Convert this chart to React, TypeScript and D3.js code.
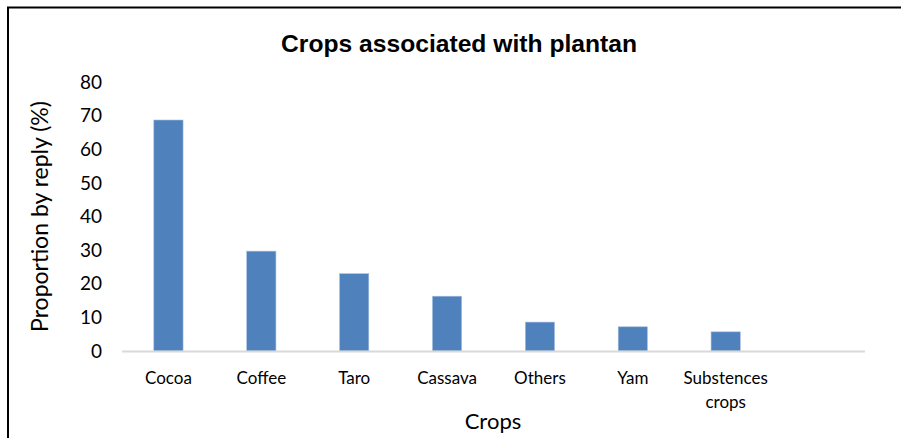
import { useMemo } from 'react';
import * as d3 from 'd3';

// data
const categories = ['Cocoa', 'Coffee', 'Taro', 'Cassava', 'Others', 'Yam', 'Substences crops', ''];
const values = [68.7, 29.7, 23.0, 16.3, 8.6, 7.2, 5.7, null];
const yTicks = [0, 10, 20, 30, 40, 50, 60, 70, 80];

const WIDTH = 901;
const HEIGHT = 438;
const PLOT = { left: 122, right: 865, top: 82, bottom: 351 };
const BAR_COLOR = '#4f81bd';
const LABEL_FONT = 'Lato, "Open Sans", sans-serif';

export default function App() {
  const xScale = useMemo(
    () => d3.scaleBand<string>().domain(categories.map((c, i) => c + i)).range([PLOT.left, PLOT.right]).padding(0),
    []
  );
  const yScale = useMemo(() => d3.scaleLinear().domain([0, 80]).range([PLOT.bottom, PLOT.top]), []);

  const step = xScale.bandwidth();
  const barW = step * 0.315;

  return (
    <svg
      width={WIDTH}
      height={HEIGHT}
      style={{ position: 'absolute', left: 0, top: 0, background: '#fff' }}
    >
      {/* chart border, runs off the right and bottom edge */}
      <rect x={8} y={7.5} width={WIDTH + 20} height={HEIGHT + 20} fill="#fff" stroke="#000" strokeWidth={2} />

      <text
        x={459}
        y={52}
        textAnchor="middle"
        fontFamily='"Liberation Sans", Arial, sans-serif'
        fontWeight="bold"
        fontSize={24}
        textLength={356}
        lengthAdjust="spacingAndGlyphs"
      >
        Crops associated with plantan
      </text>

      {/* y tick labels */}
      {yTicks.map((t) => (
        <text
          key={t}
          x={102}
          y={yScale(t)}
          dy="0.35em"
          textAnchor="end"
          fontFamily={LABEL_FONT}
          fontSize={19}
          fill="#000"
        >
          {t}
        </text>
      ))}

      {/* bars */}
      {values.map((v, i) =>
        v == null ? null : (
          <rect
            key={i}
            x={(xScale(categories[i] + i) ?? 0) + step / 2 - barW / 2}
            y={yScale(v)}
            width={barW}
            height={yScale(0) - yScale(v)}
            fill={BAR_COLOR}
            stroke="#a9c1e0"
            strokeWidth={0.6}
          />
        )
      )}

      {/* baseline */}
      <line x1={PLOT.left} x2={PLOT.right} y1={yScale(0) + 0.5} y2={yScale(0) + 0.5} stroke="#d9d9d9" strokeWidth={2} />

      {/* category labels */}
      {categories.map((c, i) => {
        const cx = (xScale(c + i) ?? 0) + step / 2;
        const lines = c === 'Substences crops' ? ['Substences', 'crops'] : [c];
        return (
          <text key={i} x={cx} y={384} textAnchor="middle" fontFamily={LABEL_FONT} fontSize={17} fill="#000">
            {lines.map((l, j) => (
              <tspan key={j} x={cx} dy={j === 0 ? 0 : 24}>
                {l}
              </tspan>
            ))}
          </text>
        );
      })}

      {/* axis titles */}
      <text x={493} y={429} textAnchor="middle" fontFamily={LABEL_FONT} fontSize={22} fill="#000">
        Crops
      </text>
      <text
        transform={`translate(48,${(PLOT.top + PLOT.bottom) / 2}) rotate(-90)`}
        textAnchor="middle"
        fontFamily={LABEL_FONT}
        fontSize={23}
        fill="#000"
      >
        Proportion by reply (%)
      </text>
    </svg>
  );
}
